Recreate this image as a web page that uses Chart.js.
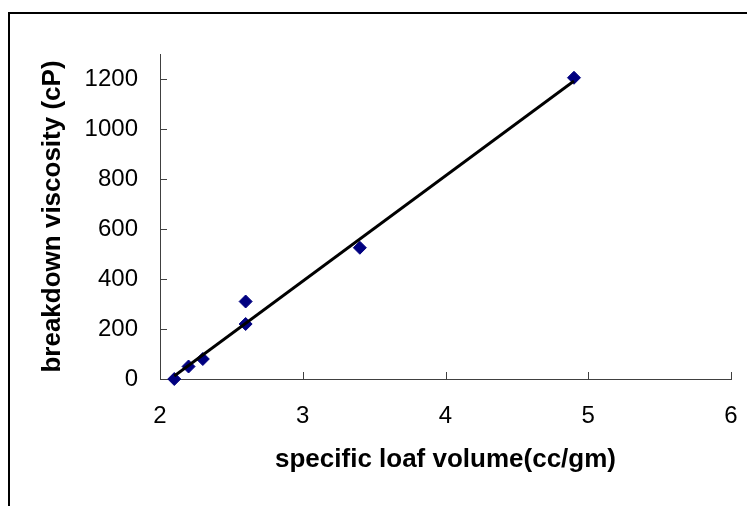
<!DOCTYPE html>
<html>
<head>
<meta charset="utf-8">
<script src="https://cdn.jsdelivr.net/npm/chart.js@4.4.1/dist/chart.umd.min.js"></script>
<style>
  html, body { margin: 0; padding: 0; background: #fff; overflow: hidden; }
  #wrap { position: relative; width: 747px; height: 506px; }
  #frame { position: absolute; left: 8px; top: 12px; width: 800px; height: 600px; border: 2px solid #000; }
  #chart { position: absolute; left: 0; top: 0; }
</style>
</head>
<body>
<div id="wrap">
  <div id="frame"></div>
  <canvas id="chart" width="747" height="506"></canvas>
</div>
<script>
// measured points
const loafVolume = [2.1, 2.2, 2.3, 2.6, 2.6, 3.4, 4.9];
const breakdownViscosity = [0, 50, 80, 310, 220, 525, 1205];

// trend line ends
const trendX = [2.1, 4.9];
const trendY = [12, 1192];

const xTicks = [2, 3, 4, 5, 6];
const yTicks = [0, 200, 400, 600, 800, 1000, 1200];

const axisColor = '#404040';

// tick marks pointing into the plot, like the original
const innerTicks = {
    id: 'innerTicks',
    afterDraw(chart) {
        const ctx = chart.ctx;
        const xs = chart.scales.x;
        const ys = chart.scales.y;
        ctx.save();
        ctx.strokeStyle = axisColor;
        ctx.lineWidth = 1;
        ctx.beginPath();
        xTicks.forEach(v => {
            const px = Math.round(xs.getPixelForValue(v)) + 0.5;
            ctx.moveTo(px, ys.bottom);
            ctx.lineTo(px, ys.bottom - 7);
        });
        yTicks.forEach(v => {
            const py = Math.round(ys.getPixelForValue(v)) + 0.5;
            ctx.moveTo(xs.left, py);
            ctx.lineTo(xs.left + 7, py);
        });
        ctx.stroke();
        ctx.restore();
    }
};

new Chart(document.getElementById('chart'), {
    type: 'scatter',
    data: {
        datasets: [{
            type: 'line',
            data: trendX.map((x, i) => ({ x: x, y: trendY[i] })),
            borderColor: '#000',
            borderWidth: 2.8,
            pointRadius: 0,
            fill: false,
            clip: false,
            order: 0
        }, {
            data: loafVolume.map((x, i) => ({ x: x, y: breakdownViscosity[i] })),
            pointStyle: 'rectRot',
            pointRadius: 6.5,
            backgroundColor: '#000080',
            borderColor: '#000080',
            borderWidth: 1,
            clip: false,
            order: 1
        }]
    },
    options: {
        responsive: false,
        animation: false,
        events: [],
        layout: { padding: { left: 10, right: 16, top: 54, bottom: 0 } },
        plugins: {
            legend: { display: false },
            tooltip: { enabled: false }
        },
        scales: {
            x: {
                type: 'linear',
                min: 2,
                max: 6,
                afterBuildTicks: s => { s.ticks = xTicks.map(v => ({ value: v })); },
                afterFit: s => {
                    s.height = 127;
                    s.paddingLeft = 0;
                    s.paddingRight = 0;
                },
                grid: { display: false, drawTicks: false },
                border: { display: true, color: axisColor, width: 1 },
                ticks: {
                    padding: 23,
                    color: '#000',
                    callback: v => String(v),
                    font: { family: 'Liberation Sans', size: 24 }
                },
                title: {
                    display: true,
                    text: 'specific loaf volume(cc/gm)',
                    color: '#000',
                    padding: { top: 0, bottom: 31 },
                    font: { family: 'Liberation Sans', size: 26, weight: 'bold' }
                }
            },
            y: {
                type: 'linear',
                min: 0,
                max: 1300,
                afterBuildTicks: s => { s.ticks = yTicks.map(v => ({ value: v })); },
                afterFit: s => { s.width = 150; },
                grid: { display: false, drawTicks: false },
                border: { display: true, color: axisColor, width: 1 },
                ticks: {
                    padding: 22,
                    color: '#000',
                    callback: v => String(v),
                    font: { family: 'Liberation Sans', size: 24 }
                },
                title: {
                    display: true,
                    text: 'breakdown viscosity (cP)',
                    color: '#000',
                    padding: { top: 27, bottom: 0 },
                    font: { family: 'Liberation Sans', size: 26, weight: 'bold' }
                }
            }
        }
    },
    plugins: [innerTicks]
});
</script>
</body>
</html>
